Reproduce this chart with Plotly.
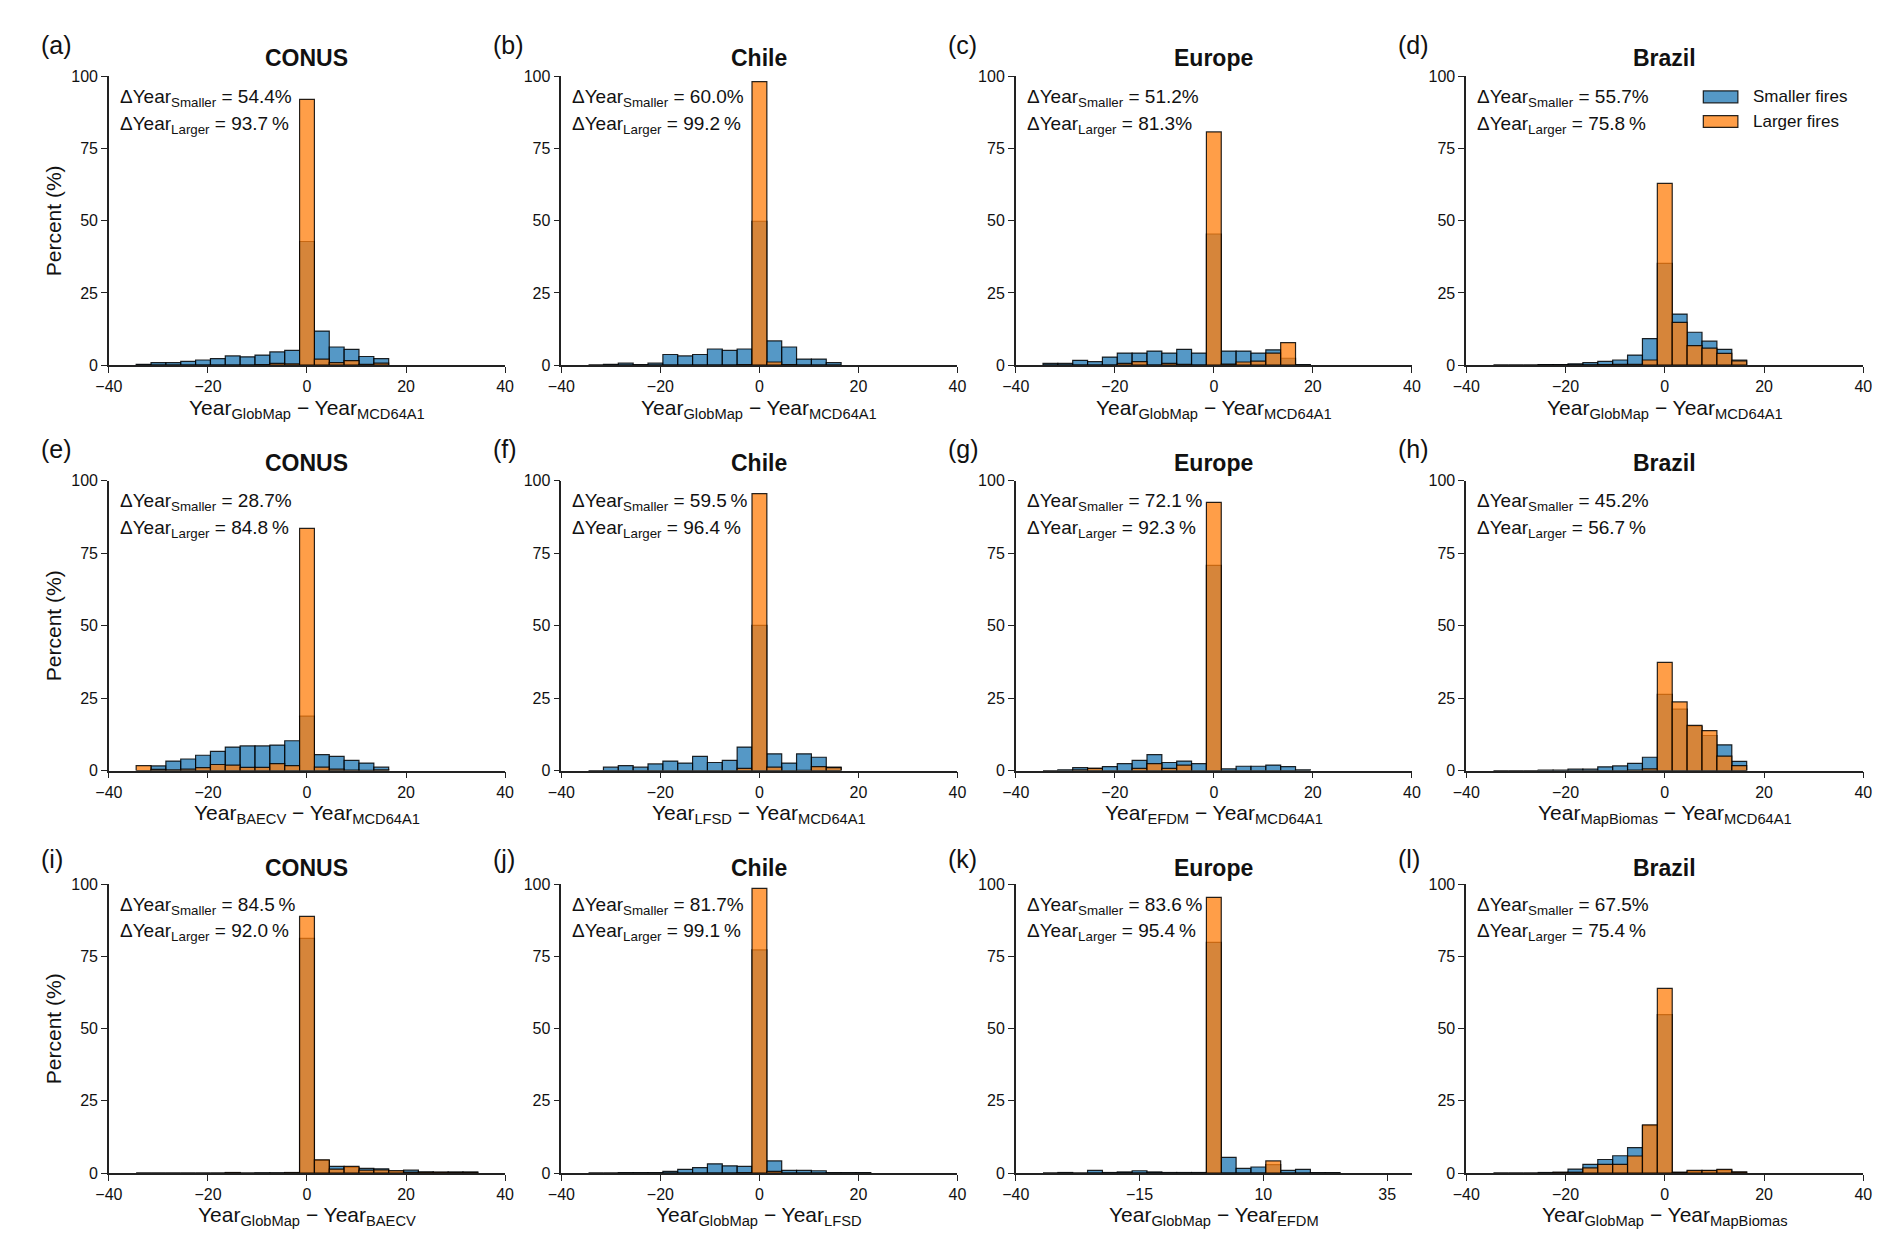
import plotly.graph_objects as go

W, H = 1892, 1252
FONT = "Liberation Sans"

# bin centres (3-year bins) shared by every panel
BIN_CENTERS = [-33, -30, -27, -24, -21, -18, -15, -12, -9, -6, -3, 0,
               3, 6, 9, 12, 15, 18, 21, 24, 27, 30, 33]

# percent of fires per bin (None = outside that histogram's bins)
A_SMALLER = [0.3, 0.9, 0.9, 1.3, 1.8, 2.3, 3.2, 2.9, 3.5, 4.6, 5.1, 42.8, 11.8, 6.3, 5.5, 3.0, 2.3, None, None, None, None, None, None]
A_LARGER = [0, 0, 0, 0, 0, 0, 0, 0, 0.2, 0.6, 0.5, 92.0, 2.1, 0.9, 1.6, 0.3, 0.7, None, None, None, None, None, None]
B_SMALLER = [0, 0.3, 0.7, 0.2, 0.7, 3.7, 3.2, 3.7, 5.6, 5.1, 5.6, 49.8, 8.4, 6.3, 2.1, 2.1, 0.9, None, None, None, None, None, None]
B_LARGER = [0, 0, 0, 0, 0, 0, 0, 0, 0, 0, 0.2, 98.1, 1.1, 0.2, 0, 0, 0, None, None, None, None, None, None]
C_SMALLER = [0.6, 0.6, 1.7, 1.2, 2.8, 4.2, 4.2, 4.9, 4.2, 5.5, 4.2, 45.4, 4.9, 4.9, 4.2, 5.3, 2.4, 0.2, None, None, None, None, None]
C_LARGER = [0, 0, 0, 0, 0, 0.6, 1.2, 0, 0.6, 0.3, 0, 80.7, 0.4, 1.1, 1.4, 4.2, 7.8, 0, None, None, None, None, None]
D_SMALLER = [0, 0, 0, 0.2, 0.2, 0.5, 0.9, 1.3, 1.8, 3.5, 9.2, 35.2, 17.7, 11.4, 8.3, 5.5, 1.8, None, None, None, None, None, None]
D_LARGER = [0, 0, 0, 0.1, 0.1, 0.1, 0.1, 0.2, 0.3, 0.3, 1.8, 62.9, 14.8, 6.8, 5.9, 4.1, 1.5, None, None, None, None, None, None]
E_SMALLER = [0, 1.6, 3.3, 4.0, 5.3, 6.6, 8.1, 8.5, 8.5, 8.8, 10.3, 18.8, 5.5, 4.9, 3.5, 2.6, 1.2, None, None, None, None, None, None]
E_LARGER = [1.7, 0.4, 0.3, 0.5, 1.0, 2.1, 1.9, 1.1, 1.1, 2.4, 1.7, 83.5, 1.2, 0.5, 0.2, 0.1, 0.3, None, None, None, None, None, None]
F_SMALLER = [0, 1.2, 1.7, 1.2, 2.3, 3.3, 2.6, 4.9, 2.8, 3.5, 8.1, 50.1, 5.8, 2.6, 5.8, 4.6, 1.2, None, None, None, None, None, None]
F_LARGER = [0, 0, 0, 0, 0, 0, 0, 0, 0, 0, 0.8, 95.5, 1.2, 0, 0.1, 1.4, 1.0, None, None, None, None, None, None]
G_SMALLER = [0, 0.3, 1.0, 0.8, 1.4, 2.4, 3.5, 5.5, 2.8, 3.3, 2.4, 70.8, 0.6, 1.5, 1.5, 1.9, 1.4, 0.3, None, None, None, None, None]
G_LARGER = [0, 0, 0.3, 0.8, 0, 0, 0.8, 2.4, 0.8, 1.9, 0, 92.5, 0, 0, 0, 0, 0, 0, None, None, None, None, None]
H_SMALLER = [0, 0, 0, 0.2, 0.2, 0.5, 0.5, 1.3, 1.6, 2.5, 4.6, 26.3, 21.2, 15.3, 12.1, 8.9, 3.2, None, None, None, None, None, None]
H_LARGER = [0, 0, 0, 0, 0, 0, 0, 0, 0, 0.2, 0.6, 37.3, 23.7, 15.6, 13.8, 5.0, 1.7, None, None, None, None, None, None]
I_SMALLER = [0, 0, 0, 0, 0, 0, 0.2, 0, 0.1, 0.1, 0.2, 81.2, 4.4, 2.3, 2.0, 1.6, 1.5, 0.8, 1.0, 0.4, 0.3, 0.4, 0.4]
I_LARGER = [0, 0, 0, 0, 0, 0, 0.1, 0, 0, 0, 0.1, 88.8, 4.6, 1.4, 2.3, 1.0, 1.1, 0.8, 0.3, 0.3, 0.3, 0.2, 0.2]
J_SMALLER = [0, 0, 0.2, 0.2, 0.2, 0.6, 1.3, 1.9, 3.2, 2.5, 2.3, 77.2, 4.2, 0.9, 0.9, 0.8, 0.2, 0.2, 0.2, None, None, None, None]
J_LARGER = [0, 0, 0, 0, 0, 0, 0, 0, 0, 0, 0.2, 98.5, 0.6, 0, 0, 0, 0, 0, 0, None, None, None, None]
K_SMALLER = [0, 0.2, 0, 0.9, 0.2, 0.4, 0.8, 0.4, 0.2, 0.2, 0.2, 79.8, 5.4, 1.6, 2.1, 2.9, 0.9, 1.3, 0.2, 0.2, None, None, None]
K_LARGER = [0, 0, 0, 0, 0, 0, 0, 0, 0, 0, 0, 95.4, 0, 0, 0, 4.2, 0, 0, 0, 0, None, None, None]
L_SMALLER = [0, 0, 0, 0.2, 0.3, 1.4, 3.0, 4.7, 6.0, 8.8, 16.4, 54.8, 0.3, 0.7, 0.8, 1.0, 0.3, None, None, None, None, None, None]
L_LARGER = [0, 0, 0, 0, 0.2, 0.3, 1.8, 3.0, 3.0, 5.9, 16.7, 63.9, 0.2, 0.9, 0.9, 1.3, 0.4, None, None, None, None, None, None]

REGIONS = ["CONUS", "Chile", "Europe", "Brazil"]
PANEL_LETTERS = ["a", "b", "c", "d", "e", "f", "g", "h", "i", "j", "k", "l"]
SMALLER = [A_SMALLER, B_SMALLER, C_SMALLER, D_SMALLER, E_SMALLER, F_SMALLER,
           G_SMALLER, H_SMALLER, I_SMALLER, J_SMALLER, K_SMALLER, L_SMALLER]
LARGER = [A_LARGER, B_LARGER, C_LARGER, D_LARGER, E_LARGER, F_LARGER,
          G_LARGER, H_LARGER, I_LARGER, J_LARGER, K_LARGER, L_LARGER]
PCT_SMALLER = ["54.4%", "60.0%", "51.2%", "55.7%", "28.7%", "59.5\u2009%",
               "72.1\u2009%", "45.2%", "84.5\u2009%", "81.7%", "83.6\u2009%", "67.5%"]
PCT_LARGER = ["93.7\u2009%", "99.2\u2009%", "81.3%", "75.8\u2009%", "84.8\u2009%", "96.4\u2009%",
              "92.3\u2009%", "56.7\u2009%", "92.0\u2009%", "99.1\u2009%", "95.4\u2009%", "75.4\u2009%"]
X_PRODUCTS = [("GlobMap", "MCD64A1")] * 4 + [("BAECV", "MCD64A1"), ("LFSD", "MCD64A1"),
              ("EFDM", "MCD64A1"), ("MapBiomas", "MCD64A1")] + [
              ("GlobMap", "BAECV"), ("GlobMap", "LFSD"), ("GlobMap", "EFDM"), ("GlobMap", "MapBiomas")]
X_TICKS_DEFAULT = [-40, -20, 0, 20, 40]
X_TICKS_EFDM = [-40, -15, 10, 35]
Y_TICKS = [0, 25, 50, 75, 100]

# axes boxes in pixels
COL_X = [(88, 489), (546, 947), (1006, 1407), (1462, 1864)]
ROW_Y = [(61, 354), (471, 765), (880, 1173)]
LABEL_OFF = [32, 32, 25]
TITLE_OFF = [18, 18, 16]

BLUE = "rgba(31,119,180,0.76)"
ORANGE = "rgba(255,127,14,0.76)"
EDGE = "rgba(0,0,0,0.85)"
TXT = "#111111"


def fx(px):
    return px / W


def fy(py):
    return 1 - py / H


fig = go.Figure()
annotations = []
shapes = []
layout_axes = {}

for i in range(12):
    r, c = divmod(i, 4)
    n = i + 1
    xa = "x" if n == 1 else f"x{n}"
    ya = "y" if n == 1 else f"y{n}"
    x0, x1 = COL_X[c]
    y0, y1 = ROW_Y[r]

    fig.add_trace(go.Bar(x=BIN_CENTERS, y=SMALLER[i], width=3, xaxis=xa, yaxis=ya,
                         marker=dict(color=BLUE, line=dict(color=EDGE, width=1.2)),
                         showlegend=False, name="Smaller fires"))
    fig.add_trace(go.Bar(x=BIN_CENTERS, y=LARGER[i], width=3, xaxis=xa, yaxis=ya,
                         marker=dict(color=ORANGE, line=dict(color=EDGE, width=1.2)),
                         showlegend=False, name="Larger fires"))

    axis_common = dict(showline=True, linecolor="#222", linewidth=1.5, ticks="outside",
                       ticklen=6, tickwidth=1.3, tickcolor="#222", showgrid=False,
                       zeroline=False, tickfont=dict(family=FONT, size=16, color=TXT))
    xticks = X_TICKS_EFDM if i == 10 else X_TICKS_DEFAULT
    layout_axes["xaxis" if n == 1 else f"xaxis{n}"] = dict(
        axis_common, domain=[fx(x0), fx(x1)], range=[-40, 40], anchor=ya,
        tickvals=xticks, ticktext=[f"{t}".replace("-", "\u2212") for t in xticks])
    layout_axes["yaxis" if n == 1 else f"yaxis{n}"] = dict(
        axis_common, domain=[fy(y1), fy(y0)], range=[0, 100], anchor=xa,
        tickvals=Y_TICKS)

    annotations.append(dict(text=f"({PANEL_LETTERS[i]})", x=fx(x0 - 71), y=fy(y0 - LABEL_OFF[r]),
                            xref="paper", yref="paper", xanchor="left", yanchor="middle",
                            showarrow=False, font=dict(family=FONT, size=25, color=TXT)))
    annotations.append(dict(text=f"<b>{REGIONS[c]}</b>", x=fx((x0 + x1) / 2), y=fy(y0 - TITLE_OFF[r]),
                            xref="paper", yref="paper", xanchor="center", yanchor="middle",
                            showarrow=False, font=dict(family=FONT, size=23, color=TXT)))
    annotations.append(dict(text=f"\u0394Year<sub>Smaller</sub> = {PCT_SMALLER[i]}",
                            x=fx(x0 + 9), y=fy(y0 + 22), xref="paper", yref="paper",
                            xanchor="left", yanchor="middle", showarrow=False,
                            font=dict(family=FONT, size=19, color=TXT)))
    annotations.append(dict(text=f"\u0394Year<sub>Larger</sub> = {PCT_LARGER[i]}",
                            x=fx(x0 + 9), y=fy(y0 + 49), xref="paper", yref="paper",
                            xanchor="left", yanchor="middle", showarrow=False,
                            font=dict(family=FONT, size=19, color=TXT)))
    p1, p2 = X_PRODUCTS[i]
    annotations.append(dict(text=f"Year<sub>{p1}</sub> \u2212 Year<sub>{p2}</sub>",
                            x=fx((x0 + x1) / 2), y=fy(y1 + 44), xref="paper", yref="paper",
                            xanchor="center", yanchor="middle", showarrow=False,
                            font=dict(family=FONT, size=21, color=TXT)))
    if c == 0:
        annotations.append(dict(text="Percent (%)", x=fx(32), y=fy((y0 + y1) / 2),
                                xref="paper", yref="paper", xanchor="center", yanchor="middle",
                                textangle=-90, showarrow=False,
                                font=dict(family=FONT, size=21, color=TXT)))

# legend drawn in panel (d)
for k, (lab, col) in enumerate([("Smaller fires", BLUE), ("Larger fires", ORANGE)]):
    yc = 82 + 25 * k
    shapes.append(dict(type="rect", xref="paper", yref="paper",
                       x0=fx(1702), x1=fx(1737), y0=fy(yc + 6), y1=fy(yc - 6),
                       fillcolor=col, line=dict(color=EDGE, width=1.2)))
    annotations.append(dict(text=lab, x=fx(1750), y=fy(yc), xref="paper", yref="paper",
                            xanchor="left", yanchor="middle", showarrow=False,
                            font=dict(family=FONT, size=17, color=TXT)))

fig.update_layout(
    width=W, height=H, margin=dict(l=0, r=0, t=0, b=0, pad=0),
    barmode="overlay", plot_bgcolor="white", paper_bgcolor="white",
    font=dict(family=FONT, color=TXT), annotations=annotations, shapes=shapes,
    showlegend=False, **layout_axes)

fig.write_html("out.html")
